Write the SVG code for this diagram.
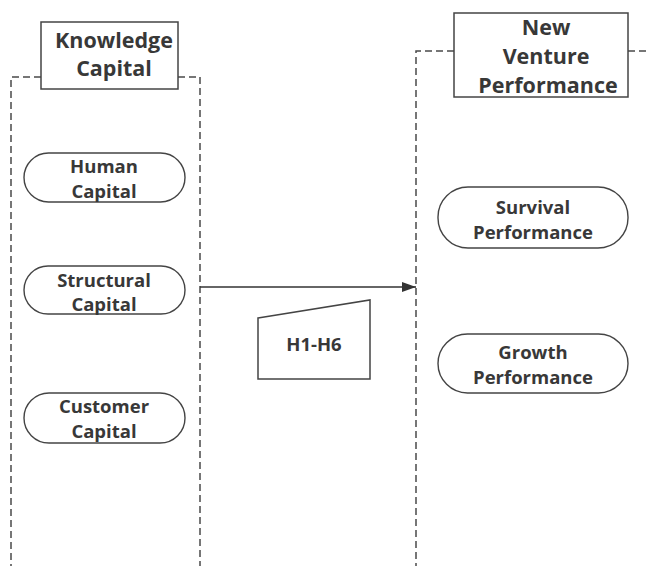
<svg xmlns="http://www.w3.org/2000/svg" width="648" height="566" viewBox="0 0 648 566">
<style>
.dash{fill:none;stroke:#4a4a4a;stroke-width:1.5;stroke-dasharray:7 4}
.box{fill:#fff;stroke:#444;stroke-width:1.5}
.pill{fill:#fff;stroke:#444;stroke-width:1.4}
text{font-family:"Open Sans","Noto Sans",sans-serif;font-weight:bold;fill:#383838;text-anchor:middle}
.t{font-size:21.5px}
.p{font-size:18.5px}
</style>
<defs>
<marker id="ah" markerWidth="14" markerHeight="10" refX="14" refY="5" orient="auto" markerUnits="userSpaceOnUse">
<path d="M0,0 L14,5 L0,10 Z" fill="#333"/>
</marker>
</defs>
<rect width="648" height="566" fill="#fff"/>
<g id="containers">
<path class="dash" d="M41,77 H11 V566 M178,77 H200 V566"/>
<path class="dash" d="M454,51 H416 V566 M628,51 H648"/>
</g>
<g id="connectors">
<line x1="200" y1="287" x2="416" y2="287" stroke="#333" stroke-width="1.4" marker-end="url(#ah)"/>
</g>
<g id="knowledge-capital">
<rect class="box" x="41" y="22" width="137" height="67"/>
<text class="t" x="114" y="48">Knowledge</text>
<text class="t" x="114" y="76">Capital</text>
</g>
<g id="new-venture-performance">
<rect class="box" x="454" y="13" width="174" height="84"/>
<text class="t" x="546" y="35">New</text>
<text class="t" x="546" y="64">Venture</text>
<text class="t" x="548" y="93">Performance</text>
</g>
<g id="human-capital">
<rect class="pill" x="24" y="153" width="161" height="49" rx="24.5"/>
<text class="p" x="104" y="172.5">Human</text>
<text class="p" x="104" y="197.5">Capital</text>
</g>
<g id="structural-capital">
<rect class="pill" x="24" y="266" width="161" height="48" rx="24"/>
<text class="p" x="104" y="286.5">Structural</text>
<text class="p" x="104" y="311">Capital</text>
</g>
<g id="customer-capital">
<rect class="pill" x="24" y="393" width="161" height="50" rx="25"/>
<text class="p" x="104" y="412.5">Customer</text>
<text class="p" x="104" y="437.5">Capital</text>
</g>
<g id="survival-performance">
<rect class="pill" x="438" y="187" width="190" height="61" rx="30"/>
<text class="p" x="533" y="213.5">Survival</text>
<text class="p" x="533" y="238.5">Performance</text>
</g>
<g id="growth-performance">
<rect class="pill" x="438" y="334" width="190" height="59" rx="29.5"/>
<text class="p" x="533" y="359">Growth</text>
<text class="p" x="533" y="384">Performance</text>
</g>
<g id="h1-h6">
<path class="box" d="M258,318 L370,300 V379 H258 Z"/>
<text class="p" x="314" y="351">H1-H6</text>
</g>
</svg>
